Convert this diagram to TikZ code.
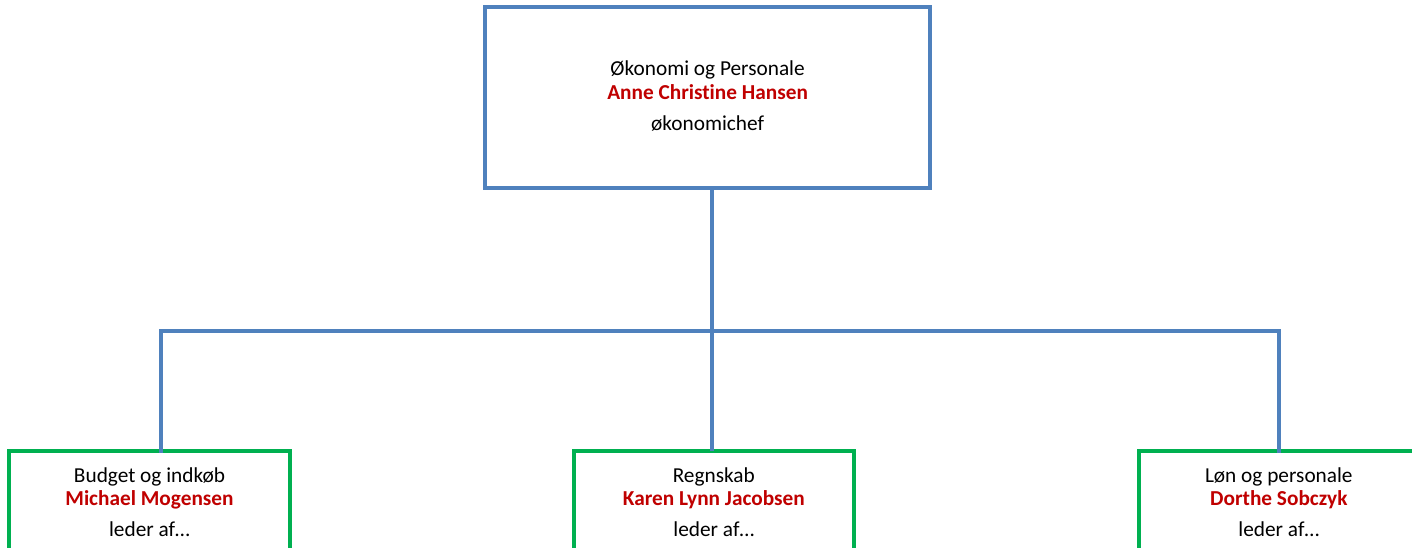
\documentclass[tikz,border=0pt]{standalone}
\usepackage{fontspec}
\setmainfont{Carlito}[Ligatures=CommonOff]
\usetikzlibrary{calc}
\definecolor{lineblue}{HTML}{4F81BD}
\definecolor{boxgreen}{HTML}{00B050}
\definecolor{namered}{HTML}{C00000}
\tikzset{
  box/.style={draw, line width=4pt, inner sep=0pt, outer sep=0pt, fill=white},
  topbox/.style={box, draw=lineblue, minimum width=444.7pt, minimum height=180.5pt},
  subbox/.style={box, draw=boxgreen, minimum width=280.3pt, minimum height=110pt},
  conn/.style={draw=lineblue, line width=4pt},
  txt/.style={anchor=base, inner sep=0pt, font=\fontsize{21.3}{25}\selectfont},
  nametxt/.style={txt, text=namered, font=\fontsize{21.3}{25}\selectfont\bfseries},
}
\begin{document}
\begin{tikzpicture}[x=1pt,y=-1pt]
\useasboundingbox (0,0) rectangle (1412,547);
\clip (0,0) rectangle (1412,547);
% boxes
\node[topbox] (top) at (707.6,97.7) {};
\node[subbox, anchor=north] (left) at (149.5,450.5) {};
\node[subbox, anchor=north] (mid) at (713.8,450.5) {};
\node[subbox, anchor=north] (right) at (1278.8,450.8) {};
% connectors
\coordinate (jm) at (712,331);
\coordinate (jl) at (161,331);
\coordinate (jr) at (1279,331);
\draw[conn] (top.south -| jm) -- (jm);
\draw[conn, line cap=rect] (jl |- left.north) -- (jl) -- (jr) -- (jr |- right.north);
\draw[conn] (jm) -- (jm |- mid.north);
% top texts
\node[txt] (t1) at ($(top.north)+(0,68.5)$) {Økonomi og Personale};
\node[nametxt] (t2) at ($(top.north)+(0,91.8)$) {Anne Christine Hansen};
\node[txt] (t3) at ($(top.north)+(0,123.2)$) {økonomichef};
% left texts
\node[txt] (l1) at ($(left.north)+(0,32)$) {Budget og indkøb};
\node[nametxt] (l2) at ($(left.north)+(0,55)$) {Michael Mogensen};
\node[txt] (l3) at ($(left.north)+(0,85.5)$) {leder af…};
% middle texts
\node[txt] (m1) at ($(mid.north)+(0,32)$) {Regnskab};
\node[nametxt] (m2) at ($(mid.north)+(0,55)$) {Karen Lynn Jacobsen};
\node[txt] (m3) at ($(mid.north)+(0,85.5)$) {leder af…};
% right texts
\node[txt] (r1) at ($(right.north)+(0,32)$) {Løn og personale};
\node[nametxt] (r2) at ($(right.north)+(0,55)$) {Dorthe Sobczyk};
\node[txt] (r3) at ($(right.north)+(0,85.5)$) {leder af…};
\end{tikzpicture}
\end{document}
